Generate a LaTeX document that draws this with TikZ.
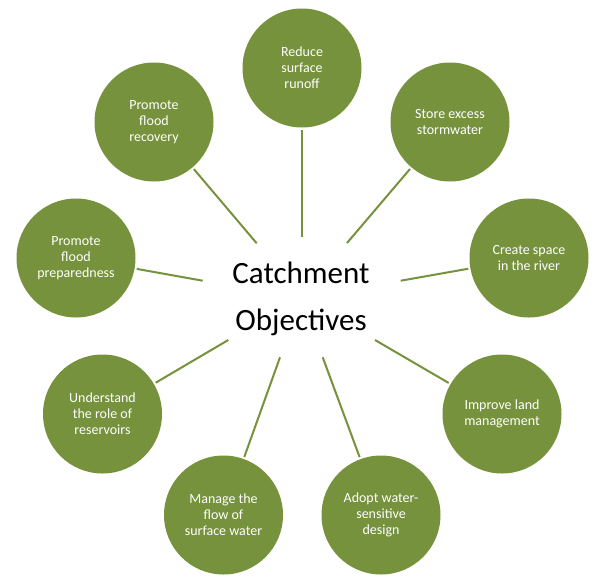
\documentclass[tikz,border=0pt]{standalone}
\usepackage{fontspec}
\setmainfont{Carlito}
\definecolor{olivegreen}{RGB}{118,146,60}
\begin{document}
\begin{tikzpicture}[x=1pt,y=-1pt,
  obj/.style={circle, fill=olivegreen, draw=none, minimum size=119pt, inner sep=0pt,
    text=white, align=center, font=\fontsize{14}{16}\selectfont},
  link/.style={draw=olivegreen, line width=2pt, shorten <=2pt},
  hubtext/.style={align=center, inner sep=0pt, text=black, font=\fontsize{31}{47}\selectfont}]
\useasboundingbox (0,0) rectangle (600,582);
\fill[white] (0,0) rectangle (600,582);
\node[obj] (c1) at (302,68) {Reduce\\surface\\runoff};
\node[obj] (c2) at (450,122) {Store excess\\stormwater};
\node[obj] (c3) at (529,258) {Create space\\in the river};
\node[obj] (c4) at (502,414) {Improve land\\management};
\node[obj] (c5) at (381,515) {Adopt water-\\sensitive\\design};
\node[obj] (c6) at (223.5,515) {Manage the\\flow of\\surface water};
\node[obj] (c7) at (102.5,414) {Understand\\the role of\\reservoirs};
\node[obj] (c8) at (76,258) {Promote\\flood\\preparedness};
\node[obj] (c9) at (154,122) {Promote\\flood\\recovery};
\node[hubtext] (hub) at (301,299) {Catchment\\Objectives};
\coordinate (e1) at (302,237);
\coordinate (e2) at (347,243);
\coordinate (e3) at (400.7,280.7);
\coordinate (e4) at (375,340);
\coordinate (e5) at (322.7,357.3);
\coordinate (e6) at (280,357.3);
\coordinate (e7) at (228.3,340);
\coordinate (e8) at (202.7,280.7);
\coordinate (e9) at (256.7,243.3);
\foreach \i in {1,...,9} \draw[link] (c\i) -- (e\i);
\end{tikzpicture}
\end{document}
